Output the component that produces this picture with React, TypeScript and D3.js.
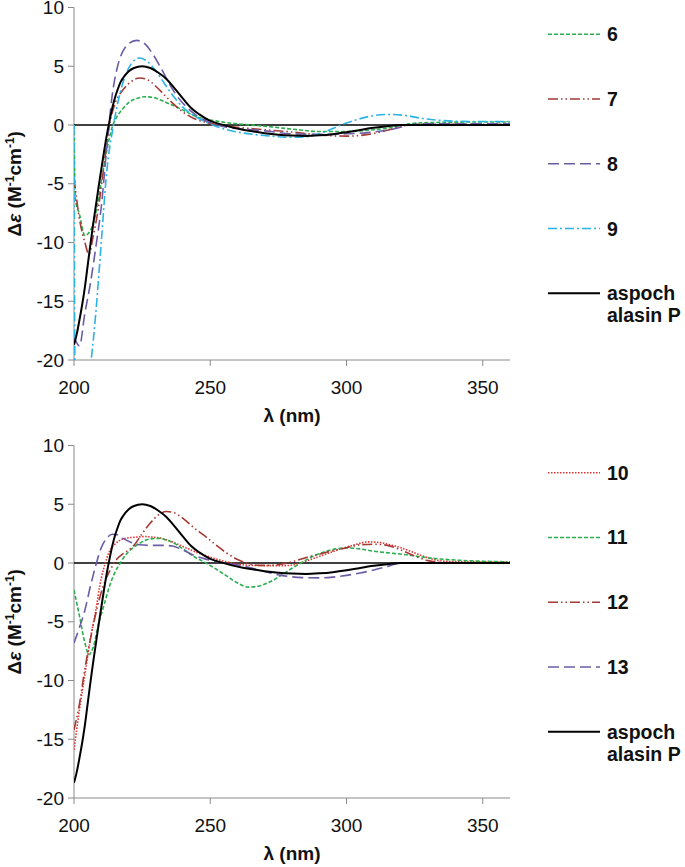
import React from 'react';
import * as d3 from 'd3';

type Pt = [number, number];

// ---- axis ticks ----
const xTicks = [200, 250, 300, 350];
const yTicks = [10, 5, 0, -5, -10, -15, -20];

// ---- reference compound (both panels) ----
const aspochalasinP: Pt[] = [
  [200, -18.7], [201, -17.8], [202, -16.6], [203, -15.3], [204, -13.8], [205, -12.0], [206, -10.2],
  [207, -8.5], [208, -6.9], [209, -5.3], [210, -3.8], [211, -2.3], [212, -0.9], [213, 0.3], [214, 1.4],
  [215, 2.3], [216, 3.0], [217, 3.6], [218, 4.0], [220, 4.55], [222, 4.85], [225, 5.0], [228, 4.85],
  [231, 4.45], [234, 3.9], [237, 3.1], [240, 2.25], [243, 1.45], [246, 0.9], [250, 0.35], [254, 0.05],
  [258, -0.2], [262, -0.4], [266, -0.55], [270, -0.7], [275, -0.83], [280, -0.9], [285, -0.93],
  [290, -0.88], [295, -0.78], [300, -0.62], [305, -0.42], [310, -0.24], [315, -0.1], [320, 0],
  [330, 0], [345, 0], [360, 0],
];

// ---- top panel ----
const cd6: Pt[] = [
  [200, 0], [200.5, -6.3], [202, -7.6], [204, -9.4], [206, -9.0], [208, -7.5], [210, -4.8], [212, -2.2],
  [214, -0.2], [216, 0.8], [218, 1.4], [220, 1.9], [223, 2.25], [226, 2.4], [229, 2.35], [232, 2.1],
  [235, 1.8], [238, 1.5], [241, 1.15], [244, 0.8], [248, 0.5], [252, 0.35], [256, 0.2], [260, 0.1],
  [270, -0.1], [280, -0.35], [290, -0.55], [300, -0.55], [310, -0.4], [318, -0.15], [323, 0.1],
  [330, 0.2], [345, 0.25], [360, 0.25],
];
const cd7: Pt[] = [
  [200, -4.5], [202, -8.0], [204, -10.0], [205.5, -11.0], [207, -9.5], [209, -7.0], [211, -3.5],
  [213, 0], [215, 1.8], [218, 3.0], [221, 3.7], [224, 4.0], [227, 3.85], [230, 3.3], [233, 2.6],
  [236, 1.9], [240, 1.1], [244, 0.55], [248, 0.25], [252, 0.05], [256, -0.1], [260, -0.2], [270, -0.4],
  [280, -0.6], [290, -0.85], [300, -0.95], [308, -0.8], [315, -0.45], [320, -0.1], [323, 0], [330, 0.05],
  [360, 0.05],
];
const cd8: Pt[] = [
  [200, -18.0], [202, -18.8], [204, -16.0], [206, -13.5], [208, -10.4], [210, -7.0], [212, -2.0],
  [214, 2.5], [216, 5.0], [218, 6.3], [220, 6.9], [223, 7.2], [226, 6.9], [229, 6.0], [232, 4.8],
  [235, 3.5], [238, 2.4], [241, 1.6], [245, 0.8], [250, 0.2], [255, -0.15], [260, -0.3], [270, -0.5],
  [280, -0.75], [290, -0.8], [300, -0.75], [310, -0.6], [318, -0.3], [323, 0], [330, 0.1], [360, 0.1],
];
const cd9: Pt[] = [
  [200, 0], [200.4, -22], [203, -25], [205.5, -21.5], [206.3, -20], [208, -16], [210, -10], [212, -4],
  [214.5, 0], [217, 2.8], [219, 4.3], [221, 5.2], [224, 5.7], [227, 5.4], [230, 4.6], [233, 3.6],
  [236, 2.6], [240, 1.5], [244, 0.8], [248, 0.3], [252, -0.1], [256, -0.4], [260, -0.6], [270, -0.9],
  [280, -1.05], [285, -1.0], [290, -0.75], [295, -0.3], [298, 0], [303, 0.4], [310, 0.8], [316, 0.9],
  [322, 0.8], [328, 0.55], [334, 0.4], [345, 0.3], [360, 0.3],
];

// ---- bottom panel ----
const cd10: Pt[] = [
  [200, -15.9], [202, -12.5], [204, -9.5], [206, -6.5], [208, -4.0], [210, -1.3], [211.5, 0], [213, 1.0],
  [215, 1.6], [217, 1.95], [220, 2.15], [223, 2.2], [226, 2.25], [229, 2.2], [232, 2.1], [236, 1.8],
  [240, 1.4], [244, 1.0], [248, 0.65], [252, 0.35], [256, 0.1], [260, -0.1], [265, -0.2], [270, -0.22],
  [278, -0.22], [283, 0], [288, 0.4], [293, 0.8], [298, 1.2], [303, 1.55], [308, 1.8], [312, 1.75],
  [316, 1.55], [320, 1.3], [324, 0.95], [328, 0.6], [332, 0.3], [336, 0.15], [345, 0.1], [360, 0.1],
];
const cd11: Pt[] = [
  [200, -2.3], [202, -4.5], [204, -6.8], [205.5, -7.8], [207, -7.2], [209, -5.2], [211, -3.6], [213, -2.0],
  [215, -0.8], [217, 0], [219, 0.7], [222, 1.35], [225, 1.8], [228, 2.05], [231, 2.1], [234, 1.95],
  [237, 1.65], [240, 1.2], [244, 0.55], [248, 0.05], [252, -0.5], [256, -1.1], [260, -1.7], [264, -2.05],
  [268, -1.95], [272, -1.6], [276, -1.05], [280, -0.45], [284, 0.1], [288, 0.6], [292, 0.95], [296, 1.2],
  [300, 1.28], [305, 1.2], [310, 1.0], [316, 0.85], [322, 0.7], [328, 0.5], [334, 0.35], [340, 0.25],
  [350, 0.15], [359, 0.1],
];
const cd12: Pt[] = [
  [200, -14.2], [202, -12.0], [204, -9.0], [206, -6.5], [208, -4.3], [210, -2.5], [212, -1.2], [214, -0.3],
  [216, 0.4], [218, 0.8], [220, 1.1], [222, 1.5], [225, 2.5], [228, 3.4], [231, 4.1], [234, 4.38],
  [237, 4.25], [240, 3.8], [244, 3.0], [248, 2.3], [252, 1.55], [256, 0.85], [260, 0.3], [264, -0.05],
  [268, -0.2], [272, -0.2], [276, -0.1], [280, 0.1], [285, 0.45], [290, 0.75], [295, 1.05], [300, 1.3],
  [305, 1.55], [310, 1.6], [315, 1.5], [320, 1.1], [325, 0.6], [330, 0.2], [335, 0.05], [345, 0], [360, 0],
];
const cd13: Pt[] = [
  [200, -6.8], [202, -5.5], [204, -4.0], [206, -2.0], [208, -0.2], [210, 1.3], [212, 2.1], [214, 2.45],
  [216, 2.4], [218, 2.1], [221, 1.75], [224, 1.55], [228, 1.5], [232, 1.5], [236, 1.45], [240, 1.1],
  [244, 0.65], [248, 0.35], [253, 0.1], [258, -0.1], [263, -0.3], [268, -0.6], [272, -0.85], [276, -1.05],
  [280, -1.18], [285, -1.25], [290, -1.27], [295, -1.2], [300, -1.05], [305, -0.85], [310, -0.6],
  [315, -0.3], [320, 0], [330, 0], [360, 0],
];

const topLabels = ['6', '7', '8', '9'];
const bottomLabels = ['10', '11', '12', '13'];
const refLabel = ['aspoch', 'alasin P'];

// ---- styles ----
type Style = { color: string; dash: string; width: number };
const GREEN: Style = { color: '#2BAE4E', dash: '4,2', width: 1.6 };
const BROWN: Style = { color: '#A33A35', dash: '10,3,1.5,3,1.5,3', width: 1.6 };
const PURPLE: Style = { color: '#6C5CA6', dash: '11,5', width: 1.6 };
const CYAN: Style = { color: '#2BB3E6', dash: '9,3,2,3', width: 1.6 };
const BLACK: Style = { color: '#000000', dash: '', width: 2 };
const RED: Style = { color: '#E8322F', dash: '1.5,1.5', width: 1.6 };

const FONT = "'Liberation Sans', Arial, Helvetica, sans-serif";
const AXIS = '#8A8A8A';

type Series = { label: string[]; data: Pt[]; style: Style };

const x = d3.scaleLinear().domain([200, 360]).range([74, 510]);

function Panel({ id, yTop, yBot, series, legendY }: { id: string; yTop: number; yBot: number; series: Series[]; legendY: number }) {
  const y = d3.scaleLinear().domain([-20, 10]).range([yBot, yTop]);
  const line = d3.line<Pt>().x(d => x(d[0])).y(d => y(d[1])).curve(d3.curveMonotoneX);
  const [x0, x1] = x.range();
  const midY = (yTop + yBot) / 2;
  return (
    <g>
      <defs>
        <clipPath id={id}>
          <rect x={x0} y={yTop} width={x1 - x0} height={yBot - yTop} />
        </clipPath>
      </defs>
      {/* y axis */}
      <line x1={x0} x2={x0} y1={yTop} y2={yBot} stroke={AXIS} strokeWidth={1} />
      {yTicks.map(t => (
        <g key={t}>
          <line x1={x0 - 6} x2={x0} y1={y(t)} y2={y(t)} stroke={AXIS} strokeWidth={1} />
          <text x={64} y={y(t) + 6.5} textAnchor="end" fontSize={19} fontFamily={FONT} fill="#111">{t}</text>
        </g>
      ))}
      {/* x axis */}
      <line x1={x0} x2={x1} y1={yBot} y2={yBot} stroke={AXIS} strokeWidth={1} />
      {xTicks.map(t => (
        <g key={t}>
          <line x1={x(t)} x2={x(t)} y1={yBot} y2={yBot + 6} stroke={AXIS} strokeWidth={1} />
          <text x={x(t)} y={yBot + 34} textAnchor="middle" fontSize={19} fontFamily={FONT} fill="#111">{t}</text>
        </g>
      ))}
      <text x={(x0 + x1) / 2} y={yBot + 62} textAnchor="middle" fontSize={19} fontWeight="bold" fontFamily={FONT} fill="#111">λ (nm)</text>
      <text transform={`translate(21,${midY}) rotate(-90)`} textAnchor="middle" fontSize={19} fontWeight="bold" fontFamily={FONT} fill="#111">
        Δ<tspan fontStyle="italic">ε</tspan> (M<tspan fontSize={12} dy={-7}>-1</tspan><tspan dy={7}>cm</tspan><tspan fontSize={12} dy={-7}>-1</tspan><tspan dy={7}>)</tspan>
      </text>
      {/* zero line */}
      <line x1={x0} x2={x1} y1={y(0)} y2={y(0)} stroke="#000" strokeWidth={1.6} />
      {/* curves */}
      <g clipPath={`url(#${id})`}>
        {series.map((s, i) => (
          <path key={i} d={line(s.data) || ''} fill="none" stroke={s.style.color} strokeWidth={s.style.width}
            strokeDasharray={s.style.dash || undefined} />
        ))}
      </g>
      {/* legend */}
      {series.map((s, i) => {
        const ly = legendY + i * 64.75;
        return (
          <g key={'lg' + i}>
            <line x1={548} x2={600} y1={ly} y2={ly} stroke={s.style.color} strokeWidth={s.style.width}
              strokeDasharray={s.style.dash || undefined} />
            {s.label.map((t, j) => (
              <text key={j} x={607} y={ly + 7 + j * 22} fontSize={19.5} fontWeight="bold" fontFamily={FONT} fill="#111">{t}</text>
            ))}
          </g>
        );
      })}
    </g>
  );
}

export default function App() {
  const topSeries: Series[] = [
    { label: [topLabels[0]], data: cd6, style: GREEN },
    { label: [topLabels[1]], data: cd7, style: BROWN },
    { label: [topLabels[2]], data: cd8, style: PURPLE },
    { label: [topLabels[3]], data: cd9, style: CYAN },
    { label: refLabel, data: aspochalasinP, style: BLACK },
  ];
  const bottomSeries: Series[] = [
    { label: [bottomLabels[0]], data: cd10, style: RED },
    { label: [bottomLabels[1]], data: cd11, style: GREEN },
    { label: [bottomLabels[2]], data: cd12, style: BROWN },
    { label: [bottomLabels[3]], data: cd13, style: PURPLE },
    { label: refLabel, data: aspochalasinP, style: BLACK },
  ];
  return (
    <svg width={685} height={867} style={{ position: 'absolute', left: 0, top: 0, background: '#fff' }}>
      <rect width={685} height={867} fill="#fff" />
      <Panel id="clipTop" yTop={7.5} yBot={360} series={topSeries} legendY={34.3} />
      <Panel id="clipBot" yTop={445.5} yBot={798} series={bottomSeries} legendY={472.7} />
    </svg>
  );
}
